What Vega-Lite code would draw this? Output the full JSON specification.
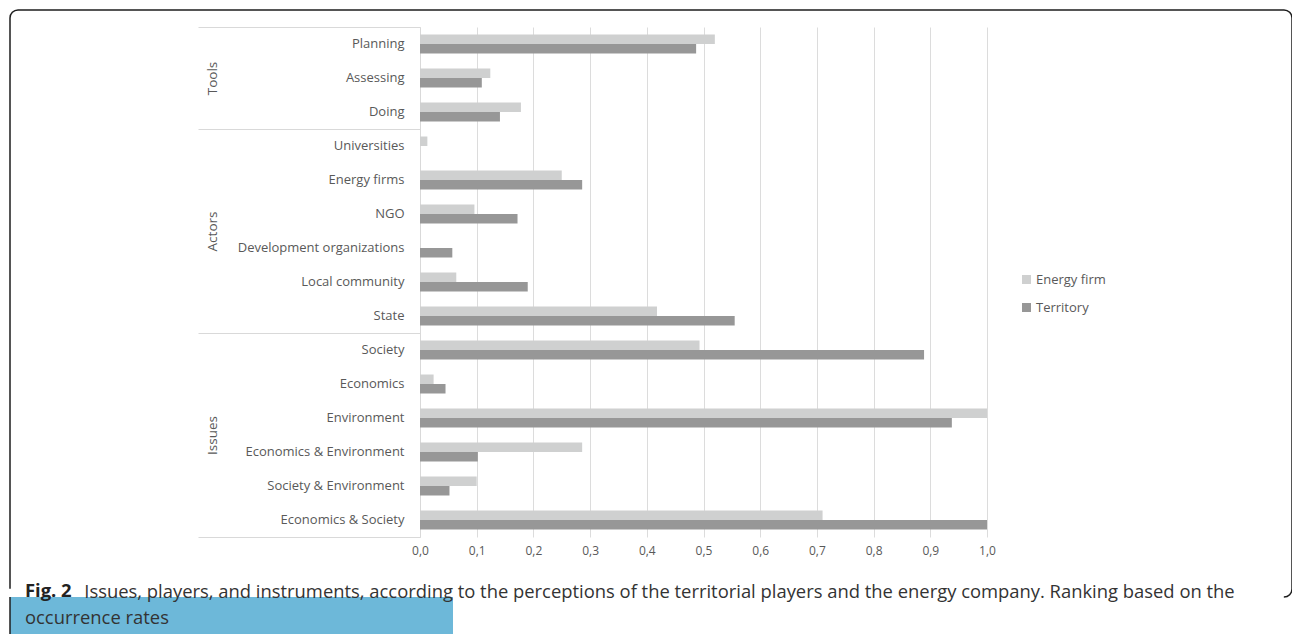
{
  "$schema": "https://vega.github.io/schema/vega-lite/v6.json",
  "background": "white",
  "padding": {"left": 9, "top": 9, "right": 0, "bottom": 0},
  "autosize": {"type": "pad"},
  "bounds": "flush",
  "spacing": 0,
  "title": {
    "text": "Issues, players, and instruments, according to the perceptions of the territorial players and the energy company. Ranking based on the",
    "orient": "bottom",
    "anchor": "start",
    "frame": "bounds",
    "dx": 75,
    "offset": -52,
    "font": "Open Sans",
    "fontSize": 18.4,
    "fontWeight": "normal",
    "color": "#333333"
  },
  "config": {
    "font": "Open Sans",
    "axis": {"labelFont": "Open Sans", "labelFontSize": 13, "labelColor": "#595959"},
    "legend": {"labelFont": "Open Sans", "labelFontSize": 13, "labelColor": "#595959"}
  },
  "datasets": {
    "rates": [
      {"group": "Tools", "item": "Planning", "series": "Energy firm", "value": 0.52},
      {"group": "Tools", "item": "Planning", "series": "Territory", "value": 0.487},
      {"group": "Tools", "item": "Assessing", "series": "Energy firm", "value": 0.124},
      {"group": "Tools", "item": "Assessing", "series": "Territory", "value": 0.109},
      {"group": "Tools", "item": "Doing", "series": "Energy firm", "value": 0.178},
      {"group": "Tools", "item": "Doing", "series": "Territory", "value": 0.141},
      {"group": "Actors", "item": "Universities", "series": "Energy firm", "value": 0.013},
      {"group": "Actors", "item": "Universities", "series": "Territory", "value": 0},
      {"group": "Actors", "item": "Energy firms", "series": "Energy firm", "value": 0.25},
      {"group": "Actors", "item": "Energy firms", "series": "Territory", "value": 0.286},
      {"group": "Actors", "item": "NGO", "series": "Energy firm", "value": 0.096},
      {"group": "Actors", "item": "NGO", "series": "Territory", "value": 0.172},
      {"group": "Actors", "item": "Development organizations", "series": "Energy firm", "value": 0},
      {"group": "Actors", "item": "Development organizations", "series": "Territory", "value": 0.057},
      {"group": "Actors", "item": "Local community", "series": "Energy firm", "value": 0.064},
      {"group": "Actors", "item": "Local community", "series": "Territory", "value": 0.19},
      {"group": "Actors", "item": "State", "series": "Energy firm", "value": 0.418},
      {"group": "Actors", "item": "State", "series": "Territory", "value": 0.555},
      {"group": "Issues", "item": "Society", "series": "Energy firm", "value": 0.493},
      {"group": "Issues", "item": "Society", "series": "Territory", "value": 0.889},
      {"group": "Issues", "item": "Economics", "series": "Energy firm", "value": 0.024},
      {"group": "Issues", "item": "Economics", "series": "Territory", "value": 0.045},
      {"group": "Issues", "item": "Environment", "series": "Energy firm", "value": 1.0},
      {"group": "Issues", "item": "Environment", "series": "Territory", "value": 0.938},
      {"group": "Issues", "item": "Economics & Environment", "series": "Energy firm", "value": 0.286},
      {"group": "Issues", "item": "Economics & Environment", "series": "Territory", "value": 0.102},
      {"group": "Issues", "item": "Society & Environment", "series": "Energy firm", "value": 0.1},
      {"group": "Issues", "item": "Society & Environment", "series": "Territory", "value": 0.052},
      {"group": "Issues", "item": "Economics & Society", "series": "Energy firm", "value": 0.71},
      {"group": "Issues", "item": "Economics & Society", "series": "Territory", "value": 1.0}
    ]
  },
  "vconcat": [
    {
      "width": 1282,
      "height": 587,
      "view": {
        "stroke": "#1e1e1e",
        "strokeWidth": 1.5,
        "cornerRadius": 8,
        "strokeDash": [1862.14, 1278.57, 583.57]
      },
      "data": {"name": "rates"},
      "encoding": {
        "x": {
          "field": "value",
          "type": "quantitative",
          "scale": {"domain": [0, 1], "range": [410, 977], "nice": false},
          "axis": {
            "orient": "top",
            "offset": -527,
            "domain": false,
            "ticks": false,
            "grid": true,
            "gridColor": "#dcdcdc",
            "gridWidth": 1,
            "values": [0, 0.1, 0.2, 0.3, 0.4, 0.5, 0.6, 0.7, 0.8, 0.9, 1],
            "labelExpr": "replace(format(datum.value, '.1f'), '.', ',')",
            "labelFontSize": 12,
            "labelBaseline": "top",
            "labelPadding": -8,
            "labelFlush": false,
            "title": null
          }
        },
        "yOffset": {
          "field": "series",
          "type": "nominal",
          "sort": ["Energy firm", "Territory"],
          "scale": {"paddingInner": 0, "paddingOuter": 0.79}
        },
        "color": {
          "field": "series",
          "type": "nominal",
          "scale": {"domain": ["Energy firm", "Territory"], "range": ["#cfd0d0", "#979797"]},
          "legend": {
            "orient": "none",
            "legendX": 1010,
            "legendY": 263,
            "title": null,
            "padding": 0,
            "symbolType": "square",
            "symbolSize": 81,
            "symbolStrokeWidth": 0,
            "rowPadding": 14,
            "labelOffset": 3
          }
        }
      },
      "layer": [
        {
          "transform": [{"filter": "datum.series === 'Energy firm'"}],
          "mark": "bar",
          "encoding": {
            "y": {
              "field": "item",
              "type": "nominal",
              "sort": ["Planning", "Assessing", "Doing", "Universities", "Energy firms", "NGO", "Development organizations", "Local community", "State", "Society", "Economics", "Environment", "Economics & Environment", "Society & Environment", "Economics & Society"],
              "scale": {"range": [17, 527], "paddingInner": 0, "paddingOuter": 0},
              "axis": {
                "orient": "left",
                "offset": -410,
                "domain": true,
                "domainColor": "#d9d9d9",
                "domainWidth": 1,
                "ticks": false,
                "grid": false,
                "labelPadding": 16,
                "labelLimit": 300,
                "title": null
              }
            }
          }
        },
        {
          "transform": [{"filter": "datum.series === 'Territory'"}],
          "mark": "bar",
          "encoding": {
            "y": {
              "field": "item",
              "type": "nominal",
              "sort": ["Planning", "Assessing", "Doing", "Universities", "Energy firms", "NGO", "Development organizations", "Local community", "State", "Society", "Economics", "Environment", "Economics & Environment", "Society & Environment", "Economics & Society"],
              "scale": {"range": [17, 527], "paddingInner": 0, "paddingOuter": 0},
              "axis": {
                "orient": "left",
                "offset": -410,
                "domain": false,
                "grid": false,
                "ticks": true,
                "tickBand": "extent",
                "tickSize": 222,
                "tickWidth": 1,
                "tickColor": {
                  "condition": {
                    "test": "!isValid(datum.value) || datum.value === 'Doing' || datum.value === 'State' || datum.value === 'Economics & Society'",
                    "value": "#d9d9d9"
                  },
                  "value": "transparent"
                },
                "labelExpr": "datum.value === 'Assessing' ? 'Tools' : datum.value === 'NGO' ? 'Actors' : datum.value === 'Environment' ? 'Issues' : ''",
                "labelAngle": -90,
                "labelAlign": "center",
                "labelBaseline": "bottom",
                "labelFontSize": 13.5,
                "labelPadding": -21,
                "labelOffset": {
                  "condition": {"test": "datum.value === 'Assessing'", "value": 0},
                  "value": 17
                },
                "title": null
              }
            }
          }
        }
      ],
      "resolve": {"axis": {"y": "independent"}}
    },
    {
      "width": 443,
      "height": 37,
      "view": {
        "fill": "#6db8d9",
        "stroke": "#1e1e1e",
        "strokeWidth": 1.5,
        "strokeDash": [0, 923, 37]
      },
      "data": {"values": []},
      "mark": "text",
      "title": {
        "text": "Fig. 2",
        "subtitle": "occurrence rates",
        "orient": "bottom",
        "anchor": "start",
        "frame": "group",
        "dx": 15,
        "offset": -52,
        "font": "Open Sans",
        "fontSize": 18.4,
        "fontWeight": "bold",
        "color": "#222222",
        "subtitleFont": "Open Sans",
        "subtitleFontSize": 18.4,
        "subtitleFontWeight": "normal",
        "subtitleColor": "#333333",
        "subtitlePadding": 9
      }
    }
  ]
}
